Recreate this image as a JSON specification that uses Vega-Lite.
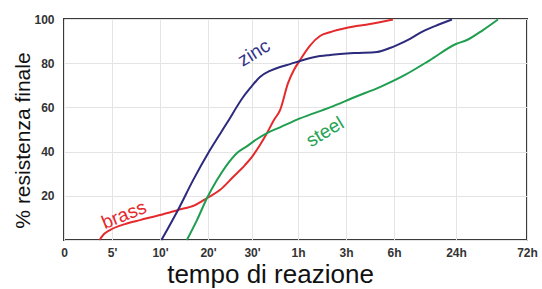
{
  "$schema": "https://vega.github.io/schema/vega-lite/v6.json",
  "width": 463,
  "height": 221,
  "autosize": {"type": "none"},
  "padding": {"left": 64, "top": 19, "right": 15, "bottom": 49},
  "background": "white",
  "config": {
    "view": {"stroke": "#3a3a3a", "strokeWidth": 2},
    "font": "Liberation Sans"
  },
  "datasets": {
    "curves": [
      {"series": "brass", "t": 3.7, "v": 0},
      {"series": "brass", "t": 4.17, "v": 2.7},
      {"series": "brass", "t": 4.79, "v": 4.5},
      {"series": "brass", "t": 6.35, "v": 7.2},
      {"series": "brass", "t": 7.9, "v": 9},
      {"series": "brass", "t": 10, "v": 11.3},
      {"series": "brass", "t": 13.75, "v": 13.6},
      {"series": "brass", "t": 17.3, "v": 15.8},
      {"series": "brass", "t": 19.8, "v": 19},
      {"series": "brass", "t": 22.7, "v": 22.6},
      {"series": "brass", "t": 25.7, "v": 28.5},
      {"series": "brass", "t": 28.4, "v": 33.9},
      {"series": "brass", "t": 30, "v": 37.6},
      {"series": "brass", "t": 35.2, "v": 43},
      {"series": "brass", "t": 39.8, "v": 48.4},
      {"series": "brass", "t": 44.3, "v": 54.3},
      {"series": "brass", "t": 48.3, "v": 58.8},
      {"series": "brass", "t": 53.5, "v": 71},
      {"series": "brass", "t": 57.4, "v": 77},
      {"series": "brass", "t": 65, "v": 81.4},
      {"series": "brass", "t": 90, "v": 88},
      {"series": "brass", "t": 115, "v": 92.3},
      {"series": "brass", "t": 140, "v": 94},
      {"series": "brass", "t": 184, "v": 96},
      {"series": "brass", "t": 270, "v": 97.7},
      {"series": "brass", "t": 356, "v": 99.8},
      {"series": "zinc", "t": 10.3, "v": 0},
      {"series": "zinc", "t": 13.75, "v": 13.6},
      {"series": "zinc", "t": 16.9, "v": 27.1},
      {"series": "zinc", "t": 20.45, "v": 40.7},
      {"series": "zinc", "t": 24.3, "v": 52.9},
      {"series": "zinc", "t": 28, "v": 64.7},
      {"series": "zinc", "t": 30, "v": 69.7},
      {"series": "zinc", "t": 35.2, "v": 73.8},
      {"series": "zinc", "t": 41.7, "v": 76.5},
      {"series": "zinc", "t": 48.3, "v": 78.3},
      {"series": "zinc", "t": 54.8, "v": 79.6},
      {"series": "zinc", "t": 65, "v": 81},
      {"series": "zinc", "t": 102.5, "v": 82.8},
      {"series": "zinc", "t": 140, "v": 83.7},
      {"series": "zinc", "t": 214, "v": 84.6},
      {"series": "zinc", "t": 296, "v": 85.1},
      {"series": "zinc", "t": 345, "v": 86.9},
      {"series": "zinc", "t": 412, "v": 88.2},
      {"series": "zinc", "t": 639, "v": 91},
      {"series": "zinc", "t": 813, "v": 93.7},
      {"series": "zinc", "t": 1074, "v": 96.8},
      {"series": "zinc", "t": 1370, "v": 99.8},
      {"series": "steel", "t": 15.6, "v": 0},
      {"series": "steel", "t": 17.7, "v": 9},
      {"series": "steel", "t": 19.8, "v": 19},
      {"series": "steel", "t": 22, "v": 27},
      {"series": "steel", "t": 24.3, "v": 34},
      {"series": "steel", "t": 26.6, "v": 39.4},
      {"series": "steel", "t": 28.9, "v": 42.5},
      {"series": "steel", "t": 33.3, "v": 45.7},
      {"series": "steel", "t": 39.8, "v": 48.4},
      {"series": "steel", "t": 48.3, "v": 51},
      {"series": "steel", "t": 65, "v": 55},
      {"series": "steel", "t": 140, "v": 60},
      {"series": "steel", "t": 214, "v": 64.7},
      {"series": "steel", "t": 307, "v": 69.2},
      {"series": "steel", "t": 552, "v": 74.7},
      {"series": "steel", "t": 987, "v": 81.4},
      {"series": "steel", "t": 1440, "v": 88.7},
      {"series": "steel", "t": 1886, "v": 90.5},
      {"series": "steel", "t": 2535, "v": 95},
      {"series": "steel", "t": 3143, "v": 99.8}
    ],
    "labels": [
      {"series": "brass", "t": 6.25, "v": 11.3},
      {"series": "zinc", "t": 31.3, "v": 84.6},
      {"series": "steel", "t": 127.5, "v": 48.9}
    ]
  },
  "encoding": {
    "x": {
      "field": "t",
      "type": "quantitative",
      "scale": {
        "domain": [0, 5, 10, 20, 30, 60, 180, 360, 1440, 4320],
        "range": [0, 48, 96, 144, 188, 234, 282, 330, 392, 463],
        "nice": false,
        "zero": false
      },
      "axis": {
        "title": "tempo di reazione",
        "values": [0, 5, 10, 20, 30, 60, 180, 360, 1440, 4320],
        "labelExpr": "['0', \"5'\", \"10'\", \"20'\", \"30'\", '1h', '3h', '6h', '24h', '72h'][indexof([0, 5, 10, 20, 30, 60, 180, 360, 1440, 4320], datum.value)]",
        "labelFont": "Liberation Sans",
        "labelFontSize": 12,
        "labelFontWeight": "bold",
        "labelColor": "#333333",
        "labelPadding": 7,
        "labelFlush": false,
        "labelOverlap": false,
        "ticks": false,
        "domain": false,
        "grid": true,
        "gridColor": "#e4e4e4",
        "gridWidth": 1,
        "titleFont": "Liberation Sans",
        "titleFontSize": 26,
        "titleFontWeight": "normal",
        "titleColor": "#111111",
        "titleAnchor": "middle",
        "titleAlign": "center",
        "titleBaseline": "alphabetic",
        "titleX": 206,
        "titleY": 42
      }
    },
    "y": {
      "field": "v",
      "type": "quantitative",
      "scale": {"domain": [0, 100], "nice": false, "zero": true},
      "axis": {
        "title": "% resistenza finale",
        "values": [0, 20, 40, 60, 80, 100],
        "labelExpr": "datum.value == 0 ? '' : datum.label",
        "labelFont": "Liberation Sans",
        "labelFontSize": 12,
        "labelFontWeight": "bold",
        "labelColor": "#333333",
        "labelPadding": 10,
        "labelFlush": false,
        "labelOverlap": false,
        "ticks": false,
        "domain": false,
        "grid": true,
        "gridColor": "#e4e4e4",
        "gridWidth": 1,
        "titleFont": "Liberation Sans",
        "titleFontSize": 21,
        "titleFontWeight": "normal",
        "titleColor": "#111111",
        "titleAngle": -90,
        "titleAlign": "center",
        "titleBaseline": "middle",
        "titleX": -41,
        "titleY": 121
      }
    }
  },
  "layer": [
    {
      "data": {"name": "curves"},
      "mark": {"type": "line", "interpolate": "monotone", "strokeWidth": 2},
      "encoding": {
        "color": {
          "field": "series",
          "type": "nominal",
          "scale": {"domain": ["brass", "zinc", "steel"], "range": ["#e42a2c", "#2b2a7c", "#1f9e4f"]},
          "legend": null
        }
      }
    },
    {
      "data": {"name": "labels"},
      "transform": [{"filter": "datum.series == 'brass'"}],
      "mark": {"type": "text", "angle": -22, "fontSize": 19, "font": "Liberation Sans", "color": "#e42a2c", "align": "center", "baseline": "middle"},
      "encoding": {"text": {"field": "series"}}
    },
    {
      "data": {"name": "labels"},
      "transform": [{"filter": "datum.series == 'zinc'"}],
      "mark": {"type": "text", "angle": -32, "fontSize": 19, "font": "Liberation Sans", "color": "#33338a", "align": "center", "baseline": "middle"},
      "encoding": {"text": {"field": "series"}}
    },
    {
      "data": {"name": "labels"},
      "transform": [{"filter": "datum.series == 'steel'"}],
      "mark": {"type": "text", "angle": -31, "fontSize": 19, "font": "Liberation Sans", "color": "#26a354", "align": "center", "baseline": "middle"},
      "encoding": {"text": {"field": "series"}}
    }
  ]
}
